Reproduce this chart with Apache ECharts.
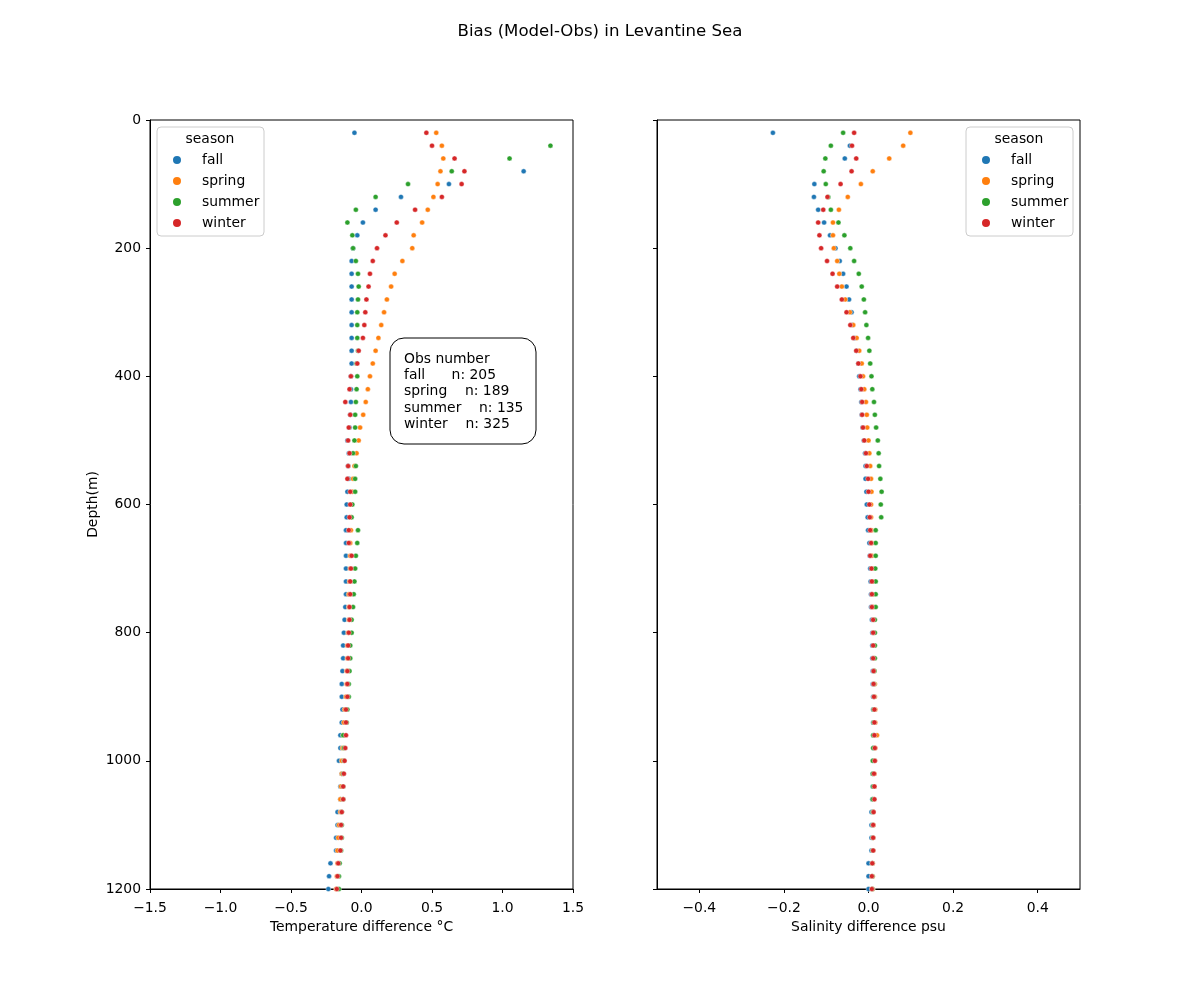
<!DOCTYPE html>
<html>
<head>
<meta charset="utf-8">
<script src="https://cdn.jsdelivr.net/npm/echarts@6/dist/echarts.min.js"></script>
<style>
html, body { margin: 0; padding: 0; background: #fff; }
#bias { width: 1200px; height: 1000px; }
</style>
</head>
<body>
<div id="bias"></div>
<script>
// depth levels (m)
var depths = [20,40,60,80,100,120,140,160,180,200,220,240,260,280,300,320,340,360,380,400,
  420,440,460,480,500,520,540,560,580,600,620,640,660,680,700,720,740,760,780,800,
  820,840,860,880,900,920,940,960,980,1000,1020,1040,1060,1080,1100,1120,1140,1160,1180,1200];

var seasons = ['fall', 'spring', 'summer', 'winter'];
var obsCounts = [205, 189, 135, 325];

// temperature bias (°C), one value per depth, null = no obs
var tempFall = [-0.05,null,null,1.15,0.62,0.28,0.10,0.01,-0.03,-0.06,
  -0.07,-0.07,-0.07,-0.07,-0.07,-0.07,-0.07,-0.07,-0.07,-0.075,
  -0.075,-0.075,-0.08,-0.085,-0.10,-0.09,-0.095,-0.09,-0.10,-0.105,
  -0.105,-0.11,-0.11,-0.11,-0.11,-0.11,-0.11,-0.115,-0.12,-0.125,
  -0.13,-0.13,-0.135,-0.14,-0.14,-0.135,-0.14,-0.15,-0.15,-0.16,
  -0.14,-0.15,-0.15,-0.17,-0.17,-0.18,-0.18,-0.22,-0.23,-0.235];
var tempSpring = [0.53,0.57,0.58,0.56,0.54,0.51,0.47,0.43,0.37,0.36,
  0.29,0.235,0.21,0.18,0.16,0.14,0.12,0.10,0.08,0.06,
  0.045,0.03,0.012,-0.01,-0.02,-0.035,-0.05,-0.06,-0.065,-0.07,
  -0.075,-0.075,-0.08,-0.08,-0.08,-0.085,-0.09,-0.09,-0.09,-0.095,
  -0.10,-0.10,-0.105,-0.105,-0.11,-0.12,-0.125,-0.13,-0.135,-0.14,
  -0.14,-0.145,-0.15,-0.15,-0.16,-0.165,-0.17,-0.17,-0.175,-0.18];
var tempSummer = [null,1.34,1.05,0.64,0.33,0.10,-0.04,-0.10,-0.065,-0.06,
  -0.04,-0.025,-0.02,-0.025,-0.03,-0.03,-0.03,-0.025,-0.035,-0.03,
  -0.035,-0.04,-0.045,-0.045,-0.05,-0.06,-0.04,-0.045,-0.045,-0.065,
  -0.07,-0.025,-0.03,-0.04,-0.045,-0.05,-0.055,-0.06,-0.07,-0.07,
  -0.08,-0.08,-0.085,-0.09,-0.09,-0.10,-0.105,-0.13,-0.125,-0.125,
  -0.13,-0.13,-0.13,-0.14,-0.14,-0.14,-0.145,-0.155,-0.16,-0.16];
var tempWinter = [0.46,0.50,0.66,0.73,0.71,0.57,0.38,0.25,0.17,0.11,
  0.08,0.06,0.05,0.035,0.027,0.02,0.01,-0.02,-0.03,-0.075,
  -0.085,-0.115,-0.08,-0.09,-0.095,-0.085,-0.095,-0.10,-0.08,-0.08,
  -0.085,-0.09,-0.09,-0.07,-0.075,-0.08,-0.08,-0.085,-0.085,-0.09,
  -0.095,-0.095,-0.10,-0.10,-0.10,-0.11,-0.11,-0.11,-0.115,-0.12,
  -0.125,-0.13,-0.13,-0.14,-0.145,-0.145,-0.15,-0.165,-0.17,-0.175];

// salinity bias (psu)
var salFall = [-0.226,-0.044,-0.056,null,-0.128,-0.129,-0.119,-0.105,-0.091,-0.078,
  -0.068,-0.060,-0.052,-0.046,-0.040,-0.038,-0.033,-0.028,-0.024,-0.022,
  -0.019,-0.017,-0.016,-0.014,-0.011,-0.008,-0.007,-0.007,-0.005,-0.004,
  -0.002,-0.001,0.002,0.003,0.004,0.005,0.006,0.006,0.008,0.009,
  0.009,0.009,0.010,0.010,0.011,0.011,0.011,0.012,0.012,0.012,
  0.010,0.010,0.009,0.007,0.007,0.007,0.007,0.000,0.000,0.000];
var salSpring = [0.099,0.082,0.049,0.010,-0.018,-0.049,-0.070,-0.084,-0.084,-0.082,
  -0.074,-0.069,-0.063,-0.055,-0.044,-0.036,-0.028,-0.022,-0.016,-0.013,
  -0.010,-0.006,-0.004,-0.003,0.000,0.002,0.004,0.006,0.007,0.006,
  0.006,0.007,0.008,0.008,0.009,0.010,0.010,0.011,0.012,0.012,
  0.013,0.013,0.014,0.015,0.015,0.016,0.016,0.020,0.016,0.015,
  0.014,0.014,0.013,0.012,0.012,0.011,0.011,0.010,0.010,0.010];
var salSummer = [-0.060,-0.089,-0.102,-0.106,-0.101,-0.095,-0.089,-0.071,-0.057,-0.043,
  -0.034,-0.023,-0.016,-0.011,-0.008,-0.005,-0.001,0.002,0.004,0.007,
  0.009,0.013,0.015,0.018,0.022,0.024,0.025,0.028,0.031,0.029,
  0.030,0.017,0.017,0.017,0.016,0.017,0.017,0.017,0.015,0.015,
  0.015,0.015,0.014,0.013,0.013,0.012,0.012,0.011,0.011,0.010,
  0.010,0.011,0.010,0.010,0.010,0.010,0.010,0.009,0.009,0.009];
var salWinter = [-0.034,-0.039,-0.029,-0.040,-0.066,-0.097,-0.107,-0.119,-0.116,-0.112,
  -0.098,-0.085,-0.074,-0.063,-0.052,-0.043,-0.036,-0.029,-0.024,-0.019,
  -0.017,-0.015,-0.015,-0.013,-0.010,-0.006,-0.004,-0.001,0.000,0.002,
  0.003,0.004,0.006,0.004,0.007,0.008,0.008,0.008,0.011,0.011,
  0.011,0.011,0.012,0.012,0.013,0.014,0.014,0.014,0.015,0.015,
  0.013,0.014,0.014,0.012,0.011,0.011,0.011,0.009,0.008,0.008];

var tempTicks = [-1.5,-1.0,-0.5,0,0.5,1.0,1.5];
var salTicks = [-0.4,-0.2,0,0.2,0.4];

var colors = ['#1f77b4', '#ff7f0e', '#2ca02c', '#d62728'];
var FONT = 'DejaVu Sans';
var FS = 13.9;

function toPoints(vals) {
  var out = [];
  for (var i = 0; i < depths.length; i++) {
    if (vals[i] !== null) out.push([vals[i], depths[i]]);
  }
  return out;
}

function fmt(v) {
  var s = Math.abs(v).toFixed(1);
  return (v < -1e-9 ? '\u2212' : '') + s;
}

function xAxisFor(grid, min, max, ticks, name) {
  return {
    gridIndex: grid, type: 'value', min: min, max: max,
    name: name, nameLocation: 'middle', nameGap: 31,
    nameTextStyle: { color: '#000', fontSize: FS, fontFamily: FONT },
    splitLine: { show: false },
    axisLine: { onZero: false, lineStyle: { color: '#000', width: 1 } },
    axisTick: { length: 4, customValues: ticks, lineStyle: { color: '#000' } },
    axisLabel: { customValues: ticks, formatter: fmt, color: '#000', fontSize: FS, fontFamily: FONT, margin: 12 }
  };
}

function yAxisFor(grid, showLabels) {
  return {
    gridIndex: grid, type: 'value', inverse: true, min: 0, max: 1200, interval: 200,
    name: showLabels ? 'Depth(m)' : '', nameLocation: 'middle', nameGap: 50,
    nameTextStyle: { color: '#000', fontSize: FS, fontFamily: FONT },
    splitLine: { show: false },
    axisLine: { onZero: false, lineStyle: { color: '#000', width: 1 } },
    axisTick: { length: 4, lineStyle: { color: '#000' } },
    axisLabel: { show: showLabels, formatter: function (v) { return String(v); },
      color: '#000', fontSize: FS, fontFamily: FONT, margin: 9 }
  };
}

var panels = [
  [tempFall, tempSpring, tempSummer, tempWinter],
  [salFall, salSpring, salSummer, salWinter]
];

var series = [];
panels.forEach(function (set, p) {
  set.forEach(function (vals, k) {
    series.push({
      name: seasons[k], type: 'scatter', xAxisIndex: p, yAxisIndex: p,
      symbolSize: 5,
      itemStyle: { color: colors[k], borderColor: '#fff', borderWidth: 0.4, opacity: 1 },
      emphasis: { disabled: true },
      data: toPoints(vals)
    });
  });
});

function legendFor(left) {
  return {
    orient: 'vertical', left: left, top: 153, padding: 0,
    icon: 'circle', itemWidth: 10, itemHeight: 10, itemGap: 7,
    data: seasons,
    textStyle: { color: '#000', fontSize: FS, fontFamily: FONT, lineHeight: 14, padding: [0, 0, 0, 15] }
  };
}

function legendFrame(x) {
  return [
    { type: 'rect', z: 3, shape: { x: x, y: 127, width: 107, height: 109, r: 4 },
      style: { fill: 'rgba(255,255,255,0.8)', stroke: '#cccccc', lineWidth: 1 } },
    { type: 'text', z: 4, x: x + 53, y: 139,
      style: { text: 'season', fill: '#000', font: FS + 'px ' + FONT, align: 'center', verticalAlign: 'middle' } }
  ];
}

var obsLines = ['Obs number'];
seasons.forEach(function (s, k) {
  var pad = s;
  while (pad.length < 10) pad += ' ';
  obsLines.push(pad + 'n: ' + obsCounts[k]);
});

var chart = echarts.init(document.getElementById('bias'));
chart.setOption({
  animation: false,
  backgroundColor: '#fff',
  title: {
    text: 'Bias (Model-Obs) in Levantine Sea', left: 'center', top: 18,
    textStyle: { color: '#000', fontSize: 16.6, fontWeight: 'normal', fontFamily: FONT }
  },
  grid: [
    { left: 150, top: 120, width: 423, height: 769, show: true, borderColor: '#000', borderWidth: 1, backgroundColor: 'transparent' },
    { left: 657, top: 120, width: 423, height: 769, show: true, borderColor: '#000', borderWidth: 1, backgroundColor: 'transparent' }
  ],
  xAxis: [
    xAxisFor(0, -1.5, 1.5, tempTicks, 'Temperature difference °C'),
    xAxisFor(1, -0.5, 0.5, salTicks, 'Salinity difference psu')
  ],
  yAxis: [yAxisFor(0, true), yAxisFor(1, false)],
  legend: [legendFor(171), legendFor(980)],
  graphic: legendFrame(157).concat(legendFrame(966)).concat([
    { type: 'rect', z: 5, shape: { x: 390, y: 338, width: 146, height: 106, r: 14 },
      style: { fill: '#fff', stroke: '#000', lineWidth: 1 } },
    { type: 'text', z: 6, x: 404, y: 351,
      style: { text: obsLines.join('\n'), fill: '#000', font: FS + 'px ' + FONT, lineHeight: 16.3, verticalAlign: 'top' } }
  ]),
  series: series
});
</script>
</body>
</html>
